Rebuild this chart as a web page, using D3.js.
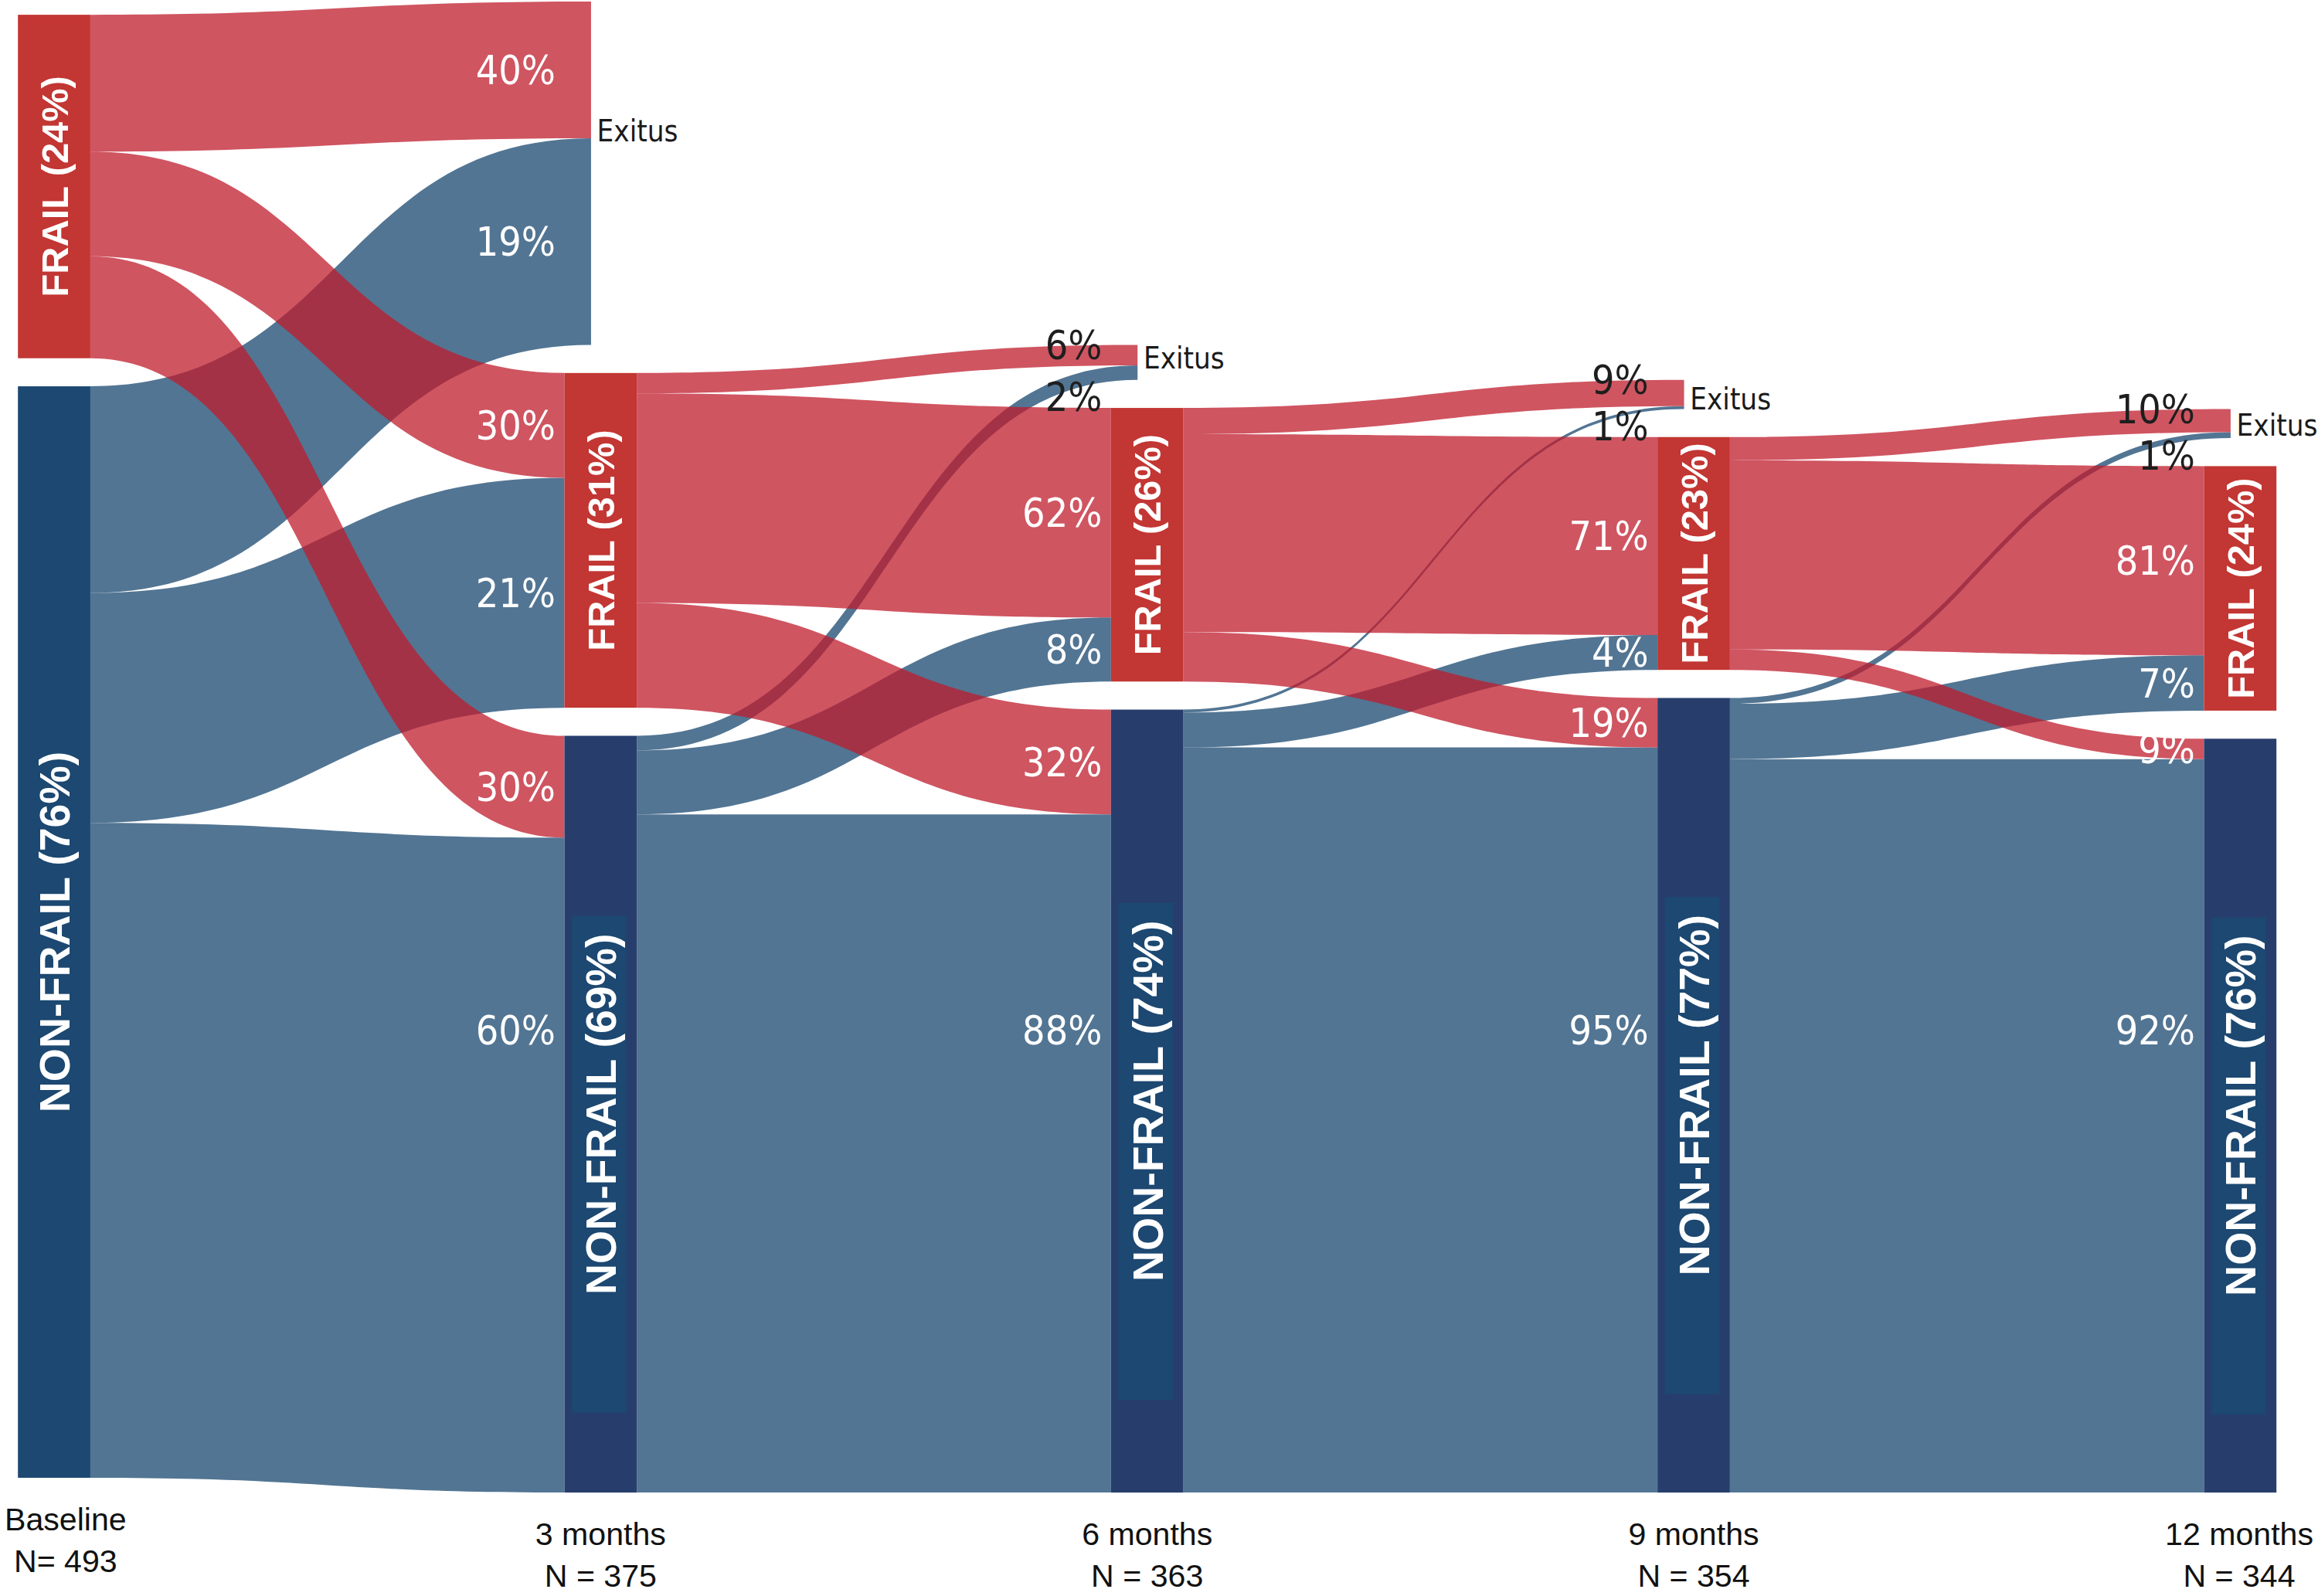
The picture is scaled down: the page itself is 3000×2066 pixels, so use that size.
<!DOCTYPE html>
<html>
<head>
<meta charset="utf-8">
<script src="https://cdn.jsdelivr.net/npm/d3@7"></script>
<style>
    body { margin: 0; background: #fff; }
    svg { display: block; }
</style>
</head>
<body>
<svg id="chart" width="3000" height="2066" viewBox="0 0 1568 1080"></svg>
<script>
// time points
var periods = ["Baseline", "3 months", "6 months", "9 months", "12 months"];
var periodN = ["N= 493", "N = 375", "N = 363", "N = 354", "N = 344"];
var frailLabels = ["FRAIL (24%)", "FRAIL (31%)", "FRAIL (26%)", "FRAIL (23%)", "FRAIL (24%)"];
var nonFrailLabels = ["NON-FRAIL (76%)", "NON-FRAIL (69%)", "NON-FRAIL (74%)", "NON-FRAIL (77%)", "NON-FRAIL (76%)"];

// patients going from one time point to the next one
// each row is [to Exitus, to FRAIL, to NON-FRAIL]
var fromFrail = [[47, 36, 35], [7, 72, 36], [9, 68, 17], [8, 65, 7]];
var fromNonFrail = [[71, 79, 225], [5, 22, 233], [1, 12, 256], [2, 19, 252]];
var fromFrailPct = [["40%", "30%", "30%"], ["6%", "62%", "32%"], ["9%", "71%", "19%"], ["10%", "81%", "9%"]];
var fromNonFrailPct = [["19%", "21%", "60%"], ["2%", "8%", "88%"], ["1%", "4%", "95%"], ["1%", "7%", "92%"]];

var states = ["Exitus", "FRAIL", "NON-FRAIL"];

// layout (viewBox units)
var nodeWidth = 49;
var nodeGap = 19;
var bottomY = 1010;
var firstBottomY = 1000;
var exitusReach = 18; // exitus ribbons stop a bit inside the column
var bigLabelY = 697;  // large bands get their label here

var colors = {
    frailNode: "#c23633",
    nonFrailNode: "#273e6d",
    nonFrailFirst: "#1c4871",
    labelBox: "#1c4871",
    frailLink: "rgba(191,28,44,0.75)",
    nonFrailLink: "rgba(24,71,111,0.75)"
};

var svg = d3.select("#chart");
var x = d3.scaleLinear().domain([0, periods.length - 1]).range([12, 1491]);
var h = d3.scaleLinear().domain([0, 493]).range([0, 971]);

// build nodes for every column
var nodes = [];
for (var c = 0; c < periods.length; c++) {
    var col = {};
    if (c === 0) {
        col["FRAIL"] = { value: d3.sum(fromFrail[0]) };
        col["NON-FRAIL"] = { value: d3.sum(fromNonFrail[0]) };
    } else {
        for (var k = 0; k < states.length; k++) {
            col[states[k]] = { value: fromFrail[c - 1][k] + fromNonFrail[c - 1][k] };
        }
    }
    // stack from the bottom: NON-FRAIL, FRAIL, Exitus
    var y = c === 0 ? firstBottomY : bottomY;
    for (var k = states.length - 1; k >= 0; k--) {
        var n = col[states[k]];
        if (!n) continue;
        n.state = states[k];
        n.col = c;
        n.x0 = x(c);
        n.x1 = x(c) + nodeWidth;
        n.y1 = y;
        n.y0 = y - h(n.value);
        n.outY = n.y0;
        n.inY = n.y0;
        y = n.y0 - nodeGap;
    }
    nodes.push(col);
}

// links, stacked in order at both ends
var links = [];
for (var t = 0; t < periods.length - 1; t++) {
    var sources = [["FRAIL", fromFrail[t], fromFrailPct[t]], ["NON-FRAIL", fromNonFrail[t], fromNonFrailPct[t]]];
    for (var s of sources) {
        for (var k = 0; k < states.length; k++) {
            var src = nodes[t][s[0]];
            var dst = nodes[t + 1][states[k]];
            var w = h(s[1][k]);
            var link = {
                from: s[0], to: states[k], pct: s[2][k],
                x0: src.x1, s0: src.outY, s1: src.outY + w,
                x1: states[k] === "Exitus" ? dst.x0 + exitusReach : dst.x0,
                t0: dst.inY, t1: dst.inY + w
            };
            src.outY += w;
            dst.inY += w;
            links.push(link);
        }
    }
}

function band(d) {
    var xm = (d.x0 + d.x1) / 2;
    var p = d3.path();
    p.moveTo(d.x0, d.s0);
    p.bezierCurveTo(xm, d.s0, xm, d.t0, d.x1, d.t0);
    p.lineTo(d.x1, d.t1);
    p.bezierCurveTo(xm, d.t1, xm, d.s1, d.x0, d.s1);
    p.closePath();
    return p.toString();
}

// blue ribbons under the red ones
var ordered = links.filter(function (d) { return d.from === "NON-FRAIL"; })
    .concat(links.filter(function (d) { return d.from === "FRAIL"; }));
svg.append("g").selectAll("path").data(ordered).enter().append("path")
    .attr("d", band)
    .attr("fill", function (d) { return d.from === "FRAIL" ? colors.frailLink : colors.nonFrailLink; });

// nodes (Exitus has no bar)
var nodeList = [];
nodes.forEach(function (col) {
    ["FRAIL", "NON-FRAIL"].forEach(function (st) { nodeList.push(col[st]); });
});
svg.append("g").selectAll("rect").data(nodeList).enter().append("rect")
    .attr("x", function (d) { return d.x0; })
    .attr("y", function (d) { return d.y0; })
    .attr("width", nodeWidth)
    .attr("height", function (d) { return d.y1 - d.y0; })
    .attr("fill", function (d) {
        if (d.state === "FRAIL") return colors.frailNode;
        return d.col === 0 ? colors.nonFrailFirst : colors.nonFrailNode;
    });

// node labels, written upwards
var nodeLabels = svg.append("g").selectAll("g").data(nodeList).enter().append("g")
    .attr("transform", function (d) {
        return "translate(" + (d.x0 + nodeWidth / 2) + "," + ((d.y0 + d.y1) / 2) + ") rotate(-90)";
    });
nodeLabels.append("text")
    .attr("text-anchor", "middle")
    .attr("dy", "0.36em")
    .attr("fill", "#fff")
    .style("font-family", "'Liberation Sans', Arial, sans-serif")
    .style("font-weight", "bold")
    .style("font-size", function (d) { return d.state === "FRAIL" ? "25.5px" : "29px"; })
    .text(function (d) { return d.state === "FRAIL" ? frailLabels[d.col] : nonFrailLabels[d.col]; });
// darker box behind the NON-FRAIL labels
nodeLabels.filter(function (d) { return d.state === "NON-FRAIL" && d.col > 0; })
    .insert("rect", "text")
    .attr("x", function () {
        var len = this.parentNode.querySelector("text").getComputedTextLength();
        return -len / 2 - 80;
    })
    .attr("y", -nodeWidth / 2 + 5)
    .attr("width", function () {
        return this.parentNode.querySelector("text").getComputedTextLength() + 92;
    })
    .attr("height", 37)
    .attr("fill", colors.labelBox);

// percentage labels at the end of every ribbon
svg.append("g").selectAll("text").data(links).enter().append("text")
    .attr("x", function (d) { return (d.to === "Exitus" ? d.x1 - exitusReach : d.x1) - 6; })
    .attr("y", function (d) {
        var thin = d.t1 - d.t0 < 40;
        if (d.to === "Exitus" && thin) {
            return d.from === "FRAIL" ? d.t0 : d.t1 + 11.5;
        }
        return Math.min((d.t0 + d.t1) / 2, bigLabelY);
    })
    .attr("dy", "0.36em")
    .attr("text-anchor", "end")
    .attr("fill", function (d) {
        return d.to === "Exitus" && d.t1 - d.t0 < 40 ? "#1e1e1e" : "#fff";
    })
    .style("font-family", "'DejaVu Sans Condensed', 'DejaVu Sans', sans-serif")
    .style("font-size", "27px")
    .text(function (d) { return d.pct; });

// Exitus names
var exitusNodes = nodes.filter(function (col) { return col["Exitus"]; }).map(function (col) { return col["Exitus"]; });
svg.append("g").selectAll("text").data(exitusNodes).enter().append("text")
    .attr("x", function (d) { return d.x0 + exitusReach + 4; })
    .attr("y", function (d) {
        var red = links.find(function (l) { return l.to === "Exitus" && l.from === "FRAIL" && l.x1 === d.x0 + exitusReach; });
        return red.t1 - 5;
    })
    .attr("dy", "0.36em")
    .attr("fill", "#1a1a1a")
    .style("font-family", "'DejaVu Sans Condensed', 'DejaVu Sans', sans-serif")
    .style("font-size", "20px")
    .text("Exitus");

// time point captions under the columns
var caps = svg.append("g").selectAll("text").data(periods).enter().append("text")
    .attr("text-anchor", "middle")
    .attr("fill", "#111")
    .style("font-family", "'Liberation Sans', Arial, sans-serif")
    .style("font-size", "21.5px");
caps.each(function (d, i) {
    var bottom = i === 0 ? firstBottomY : bottomY;
    var el = d3.select(this).attr("y", bottom + 28);
    var a = el.append("tspan").attr("dy", "0.36em").text(d);
    var b = el.append("tspan").attr("dy", "1.3em").text(periodN[i]);
    var w = Math.max(a.node().getComputedTextLength(), b.node().getComputedTextLength());
    var cx = x(i) + nodeWidth / 2;
    cx = Math.max(cx, w / 2 + 3);
    cx = Math.min(cx, 1565 - w / 2);
    el.selectAll("tspan").attr("x", cx);
});
</script>
</body>
</html>
